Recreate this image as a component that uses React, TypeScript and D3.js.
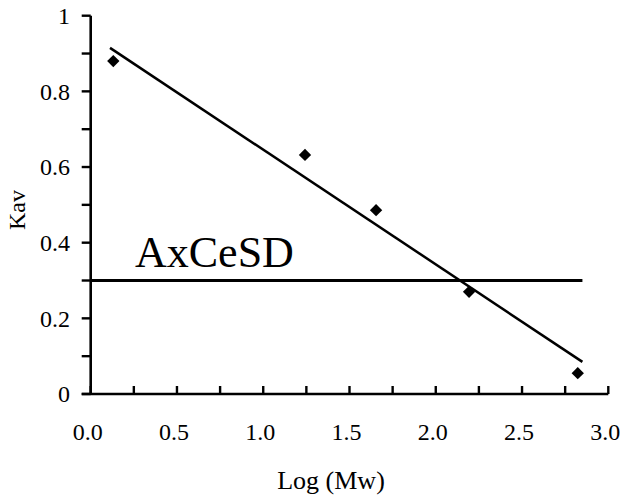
import React from "react";
import * as d3 from "d3";

const pointX = [0.131, 1.242, 1.654, 2.193, 2.823];
const pointY = [0.880, 0.632, 0.486, 0.270, 0.055];
const fitX = [0.112, 2.85];
const fitY = [0.915, 0.085];
const refLineX = [0, 2.85];
const refLineY = [0.3, 0.3];
const xTicks = [0, 0.5, 1.0, 1.5, 2.0, 2.5, 3.0];
const xMinorTicks = [0, 0.25, 0.5, 0.75, 1.0, 1.25, 1.5, 1.75, 2.0, 2.25, 2.5, 2.75, 3.0];
const yTicks = [0, 0.2, 0.4, 0.6, 0.8, 1];
const yMinorTicks = [0, 0.1, 0.2, 0.3, 0.4, 0.5, 0.6, 0.7, 0.8, 0.9, 1];
const annotation = "AxCeSD";
const xTitle = "Log (Mw)";
const yTitle = "Kav";

const W = 627;
const H = 499;
const FONT = "Liberation Serif";

export default function App() {
  const x = d3.scaleLinear().domain([0, 3]).range([90.7, 608.3]);
  const y = d3.scaleLinear().domain([0, 1]).range([394, 15.7]);
  const line = d3.line<[number, number]>().x((d) => x(d[0])).y((d) => y(d[1]));
  const diamond = d3.symbol().type(d3.symbolSquare).size(76)();
  const fitPts: [number, number][] = fitX.map((v, i) => [v, fitY[i]]);
  const refPts: [number, number][] = refLineX.map((v, i) => [v, refLineY[i]]);
  const x0 = x(0);
  const y0 = y(0);
  const ts = { fontFamily: FONT };
  return (
    <svg width={W} height={H} style={{ position: "absolute", left: 0, top: 0, background: "#fff" }}>
      <rect width={W} height={H} fill="#fff" />
      <line x1={x0} x2={x0} y1={y(1)} y2={y0} stroke="#000" strokeWidth={2.6} />
      <line x1={x0 - 9} x2={x(3)} y1={y0} y2={y0} stroke="#000" strokeWidth={2.6} />
      {yMinorTicks.map((t) => (
        <line key={"yt" + t} x1={x0 - 9} x2={x0} y1={y(t)} y2={y(t)} stroke="#000" strokeWidth={2.4} />
      ))}
      {xMinorTicks.map((t) => (
        <line key={"xt" + t} x1={x(t)} x2={x(t)} y1={y0} y2={y0 - 8} stroke="#000" strokeWidth={2.4} />
      ))}
      {yTicks.map((t) => (
        <text key={"yl" + t} x={70} y={y(t)} dy="0.35em" textAnchor="end" style={ts} fontSize={24} fill="#000">
          {t === 0 || t === 1 ? String(t) : t.toFixed(1)}
        </text>
      ))}
      {xTicks.map((t) => (
        <text key={"xl" + t} x={x(t) - 3} y={440} textAnchor="middle" style={ts} fontSize={24} fill="#000">
          {t.toFixed(1)}
        </text>
      ))}
      <text x={331} y={489} textAnchor="middle" style={ts} fontSize={26} fill="#000">
        {xTitle}
      </text>
      <text transform="translate(25,210) rotate(-90)" textAnchor="middle" style={ts} fontSize={24} fill="#000">
        {yTitle}
      </text>
      <text x={135} y={267} style={ts} fontSize={44} fill="#000">
        {annotation}
      </text>
      <path d={line(refPts) || ""} stroke="#000" strokeWidth={2.8} fill="none" />
      <path d={line(fitPts) || ""} stroke="#000" strokeWidth={2.5} fill="none" />
      {pointX.map((v, i) => (
        <path key={"p" + i} d={diamond || ""} transform={`translate(${x(v)},${y(pointY[i])}) rotate(45)`} fill="#000" />
      ))}
    </svg>
  );
}
